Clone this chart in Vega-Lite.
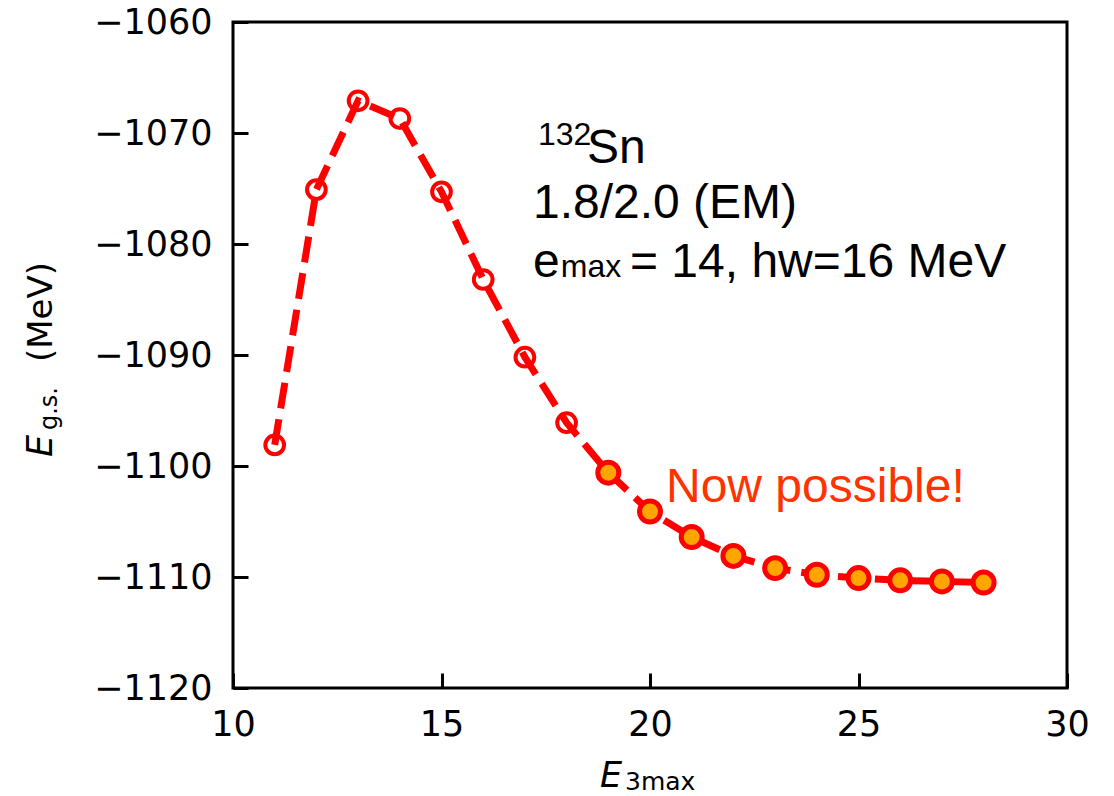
{
  "$schema": "https://vega.github.io/schema/vega-lite/v6.json",
  "autosize": {"type": "none"},
  "width": 834,
  "height": 666,
  "padding": {"left": 233, "top": 22, "right": 47, "bottom": 108},
  "background": "white",
  "config": {
    "view": {"stroke": "black", "strokeWidth": 3},
    "axis": {
      "domain": false,
      "grid": false,
      "ticks": true,
      "tickSize": 15,
      "offset": -15,
      "tickWidth": 3,
      "tickColor": "black",
      "labelFont": "DejaVu Sans",
      "labelFontSize": 35,
      "labelColor": "black",
      "format": "d",
      "title": null
    }
  },
  "datasets": {
    "energy": [
      {"e3max": 11, "egs": -1098.1, "status": "previous"},
      {"e3max": 12, "egs": -1075.1, "status": "previous"},
      {"e3max": 13, "egs": -1067.1, "status": "previous"},
      {"e3max": 14, "egs": -1068.7, "status": "previous"},
      {"e3max": 15, "egs": -1075.3, "status": "previous"},
      {"e3max": 16, "egs": -1083.2, "status": "previous"},
      {"e3max": 17, "egs": -1090.2, "status": "previous"},
      {"e3max": 18, "egs": -1096.1, "status": "previous"},
      {"e3max": 19, "egs": -1100.6, "status": "new"},
      {"e3max": 20, "egs": -1104.1, "status": "new"},
      {"e3max": 21, "egs": -1106.4, "status": "new"},
      {"e3max": 22, "egs": -1108.1, "status": "new"},
      {"e3max": 23, "egs": -1109.2, "status": "new"},
      {"e3max": 24, "egs": -1109.8, "status": "new"},
      {"e3max": 25, "egs": -1110.1, "status": "new"},
      {"e3max": 26, "egs": -1110.3, "status": "new"},
      {"e3max": 27, "egs": -1110.4, "status": "new"},
      {"e3max": 28, "egs": -1110.5, "status": "new"}
    ]
  },
  "layer": [
    {
      "data": {"name": "energy"},
      "mark": {"type": "line", "color": "#ff0000", "strokeWidth": 7, "strokeDash": [26, 11]},
      "encoding": {
        "x": {"field": "e3max", "type": "quantitative",
              "scale": {"domain": [10, 30], "nice": false, "zero": false},
              "axis": {"values": [10, 15, 20, 25, 30], "labelPadding": 19, "labelFlush": false, "format": "d"}},
        "y": {"field": "egs", "type": "quantitative",
              "scale": {"domain": [-1120, -1060], "nice": false, "zero": false},
              "axis": {"values": [-1120, -1110, -1100, -1090, -1080, -1070, -1060], "labelPadding": 21, "labelFlush": false, "format": "d"}}
      }
    },
    {
      "data": {"name": "energy"},
      "transform": [{"filter": "datum.status === 'previous'"}],
      "mark": {"type": "point", "shape": "circle", "filled": false, "stroke": "#ff0000", "strokeWidth": 4, "size": 350, "opacity": 1},
      "encoding": {
        "x": {"field": "e3max", "type": "quantitative"},
        "y": {"field": "egs", "type": "quantitative"}
      }
    },
    {
      "data": {"name": "energy"},
      "transform": [{"filter": "datum.status === 'new'"}],
      "mark": {"type": "point", "shape": "circle", "filled": true, "fill": "#ffa500", "stroke": "#ff0000", "strokeWidth": 5, "size": 440, "opacity": 1, "fillOpacity": 1},
      "encoding": {
        "x": {"field": "e3max", "type": "quantitative"},
        "y": {"field": "egs", "type": "quantitative"}
      }
    },
    {
      "data": {"values": [
        {"x": 17.194, "y": -1077.66, "label": "1.8/2.0 (EM)"},
        {"x": 18.489, "y": -1072.7, "label": "Sn"},
        {"x": 17.194, "y": -1082.97, "label": "e"},
        {"x": 19.52, "y": -1082.97, "label": "= 14, hw=16 MeV"}
      ]},
      "mark": {"type": "text", "font": "Liberation Sans", "fontSize": 48, "align": "left", "baseline": "alphabetic", "color": "black"},
      "encoding": {
        "x": {"field": "x", "type": "quantitative"},
        "y": {"field": "y", "type": "quantitative"},
        "text": {"field": "label"}
      }
    },
    {
      "data": {"values": [
        {"x": 17.314, "y": -1071.08, "label": "132"},
        {"x": 17.86, "y": -1082.97, "label": "max"}
      ]},
      "mark": {"type": "text", "font": "Liberation Sans", "fontSize": 32, "align": "left", "baseline": "alphabetic", "color": "black"},
      "encoding": {
        "x": {"field": "x", "type": "quantitative"},
        "y": {"field": "y", "type": "quantitative"},
        "text": {"field": "label"}
      }
    },
    {
      "data": {"values": [
        {"x": 20.384, "y": -1103.24, "label": "Now possible!"}
      ]},
      "mark": {"type": "text", "font": "Liberation Sans", "fontSize": 48, "align": "left", "baseline": "alphabetic", "color": "#ff3300"},
      "encoding": {
        "x": {"field": "x", "type": "quantitative"},
        "y": {"field": "y", "type": "quantitative"},
        "text": {"field": "label"}
      }
    },
    {
      "data": {"values": [
        {"x": 18.8, "y": -1128.92, "label": "E"}
      ]},
      "mark": {"type": "text", "font": "DejaVu Sans", "fontSize": 35, "fontStyle": "italic", "align": "left", "baseline": "alphabetic", "color": "black"},
      "encoding": {
        "x": {"field": "x", "type": "quantitative"},
        "y": {"field": "y", "type": "quantitative"},
        "text": {"field": "label"}
      }
    },
    {
      "data": {"values": [
        {"x": 19.4, "y": -1129.19, "label": "3max"}
      ]},
      "mark": {"type": "text", "font": "DejaVu Sans", "fontSize": 25, "align": "left", "baseline": "alphabetic", "color": "black"},
      "encoding": {
        "x": {"field": "x", "type": "quantitative"},
        "y": {"field": "y", "type": "quantitative"},
        "text": {"field": "label"}
      }
    },
    {
      "data": {"values": [
        {"x": 5.66, "y": -1099.19, "label": "E"}
      ]},
      "mark": {"type": "text", "font": "DejaVu Sans", "fontSize": 35, "fontStyle": "italic", "angle": 270, "align": "left", "baseline": "alphabetic", "color": "black"},
      "encoding": {
        "x": {"field": "x", "type": "quantitative"},
        "y": {"field": "y", "type": "quantitative"},
        "text": {"field": "label"}
      }
    },
    {
      "data": {"values": [
        {"x": 5.78, "y": -1096.76, "label": "g.s."}
      ]},
      "mark": {"type": "text", "font": "DejaVu Sans", "fontSize": 24, "angle": 270, "align": "left", "baseline": "alphabetic", "color": "black"},
      "encoding": {
        "x": {"field": "x", "type": "quantitative"},
        "y": {"field": "y", "type": "quantitative"},
        "text": {"field": "label"}
      }
    },
    {
      "data": {"values": [
        {"x": 5.66, "y": -1090.63, "label": "(MeV)"}
      ]},
      "mark": {"type": "text", "font": "DejaVu Sans", "fontSize": 34, "angle": 270, "align": "left", "baseline": "alphabetic", "color": "black"},
      "encoding": {
        "x": {"field": "x", "type": "quantitative"},
        "y": {"field": "y", "type": "quantitative"},
        "text": {"field": "label"}
      }
    }
  ]
}
